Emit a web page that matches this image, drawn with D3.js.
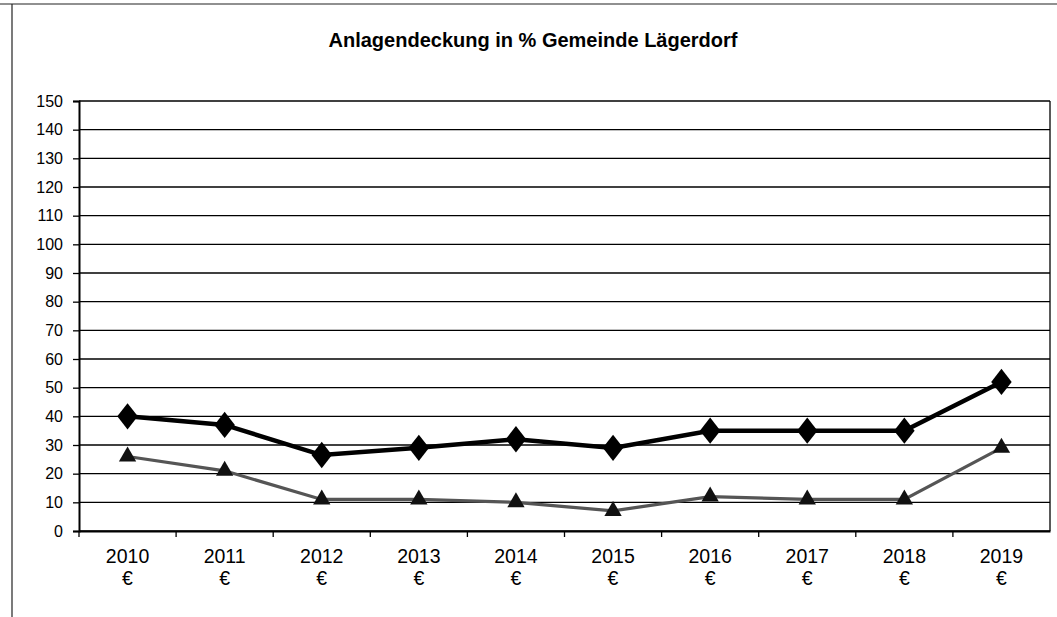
<!DOCTYPE html>
<html><head><meta charset="utf-8">
<script src="https://cdn.jsdelivr.net/npm/d3@7"></script>
<style>body{margin:0;background:#fff}svg{display:block}</style>
</head><body>
<svg id="c" width="1057" height="617"></svg>
<script>
const years = ["2010","2011","2012","2013","2014","2015","2016","2017","2018","2019"];
const seriesA = [40, 37, 26.5, 29, 32, 29, 35, 35, 35, 52];
const seriesB = [26, 21, 11, 11, 10, 7, 12, 11, 11, 29];
const yTicks = [0,10,20,30,40,50,60,70,80,90,100,110,120,130,140,150];
const title = "Anlagendeckung in % Gemeinde Lägerdorf";

const svg = d3.select("#c");
const L = 79, R = 1050, T = 101, B = 531;
const font = "Liberation Sans, Arial, sans-serif";

// frame
svg.append("line").attr("x1",0).attr("x2",1057).attr("y1",4).attr("y2",4).attr("stroke","#222").attr("stroke-width",1.2);
svg.append("line").attr("x1",12).attr("x2",12).attr("y1",4).attr("y2",617).attr("stroke","#222").attr("stroke-width",1.2);

svg.append("text").attr("x",533).attr("y",47).attr("text-anchor","middle")
  .attr("font-family",font).attr("font-weight","bold").attr("font-size",20).text(title);

const x = d3.scaleBand().domain(years).range([L,R]);
const y = d3.scaleLinear().domain([0,150]).range([B,T]);

// gridlines
svg.append("g").selectAll("line").data(yTicks).join("line")
  .attr("x1",L).attr("x2",R).attr("y1",d=>y(d)).attr("y2",d=>y(d))
  .attr("stroke","#000").attr("stroke-width",1.3);
// right border
svg.append("line").attr("x1",R).attr("x2",R).attr("y1",T).attr("y2",B).attr("stroke","#000").attr("stroke-width",1.3);

// y axis
const ya = svg.append("g").attr("transform",`translate(${L},0)`)
  .call(d3.axisLeft(y).tickValues(yTicks).tickSize(6).tickPadding(10));
ya.select(".domain").attr("stroke","#000").attr("stroke-width",2);
ya.selectAll(".tick line").attr("stroke","#000").attr("stroke-width",1.3);
ya.selectAll("text").attr("font-family",font).attr("font-size",16).attr("fill","#000");

// x axis
const xa = svg.append("g").attr("transform",`translate(0,${B})`)
  .call(d3.axisBottom(x).tickSize(0).tickFormat(""));
xa.select(".domain").attr("stroke","#000").attr("stroke-width",2);
svg.append("g").selectAll("line").data(years).join("line")
  .attr("x1",d=>x(d)).attr("x2",d=>x(d)).attr("y1",B).attr("y2",B+6)
  .attr("stroke","#000").attr("stroke-width",1.3);
const lab = svg.append("g").selectAll("text").data(years).join("text")
  .attr("font-family",font).attr("font-size",19.5).attr("text-anchor","middle");
lab.append("tspan").attr("x",d=>x(d)+x.bandwidth()/2).attr("y",563).text(d=>d);
lab.append("tspan").attr("x",d=>x(d)+x.bandwidth()/2).attr("y",585).text("€");

const cx = (d,i)=>x(years[i])+x.bandwidth()/2;
const line = d3.line().x(cx).y(d=>y(d));

// series B (gray)
svg.append("path").datum(seriesB).attr("d",line).attr("fill","none")
  .attr("stroke","#555").attr("stroke-width",3.2);
svg.append("g").selectAll("path").data(seriesB).join("path")
  .attr("d",d3.symbol().type(d3.symbolTriangle).size(130))
  .attr("transform",(d,i)=>`translate(${cx(d,i)},${y(d)})`).attr("fill","#111");

// series A (black)
svg.append("path").datum(seriesA).attr("d",line).attr("fill","none")
  .attr("stroke","#000").attr("stroke-width",4.5);
svg.append("g").selectAll("path").data(seriesA).join("path")
  .attr("d",d3.symbol().type(d3.symbolDiamond).size(200))
  .attr("transform",(d,i)=>`translate(${cx(d,i)},${y(d)}) scale(1.35,1)`).attr("fill","#000");
</script>
</body></html>
